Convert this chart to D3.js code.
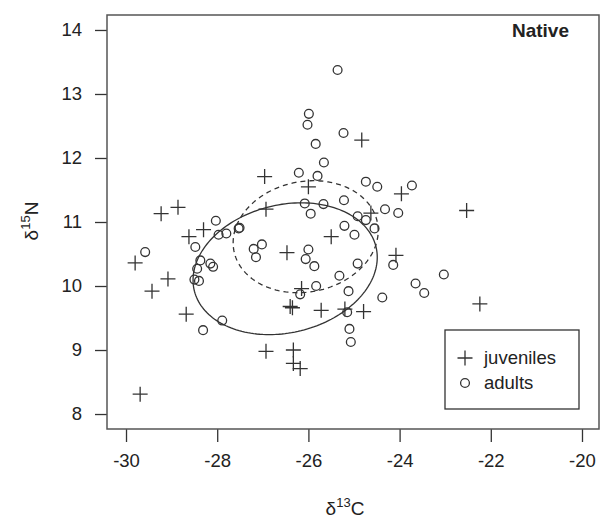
<!DOCTYPE html>
<html>
<head>
<meta charset="utf-8">
<script src="https://cdn.jsdelivr.net/npm/d3@7"></script>
<style>
  body { margin: 0; background: #fff; }
  text { font-family: "Liberation Sans", Arial, sans-serif; fill: #222; }
</style>
</head>
<body>
<div id="chart"></div>
<script>
// chart size and plot frame
const width = 600;
const height = 520;
const frame = { left: 107, right: 599, top: 15, bottom: 429 };

// data (d13C, d15N)
const juvX = [-29.80, -29.43, -29.23, -28.86, -29.08, -28.62, -28.30, -28.68, -29.69, -26.96,
              -26.93, -26.93, -26.47, -26.40, -26.35, -26.33, -26.33, -26.18, -26.15, -26.00,
              -25.72, -25.50, -25.20, -24.79, -24.83, -24.63, -23.96, -24.08, -22.53, -22.24];
const juvY = [10.36, 9.92, 11.13, 11.23, 10.11, 10.77, 10.88, 9.56, 8.31, 11.71,
              11.20, 8.98, 10.52, 9.68, 9.66, 9.00, 8.79, 8.71, 9.96, 11.55,
              9.62, 10.77, 9.64, 9.60, 12.28, 11.14, 11.44, 10.48, 11.18, 9.72];

const adX = [-29.58, -28.03, -27.97, -27.80, -27.53, -27.51, -28.48, -28.37, -28.15, -28.09,
             -28.44, -28.50, -28.40, -27.20, -27.02, -27.15, -27.89, -28.31, -25.36, -25.99,
             -26.02, -25.23, -25.84, -25.66, -26.21, -25.80, -24.74, -24.49, -23.73, -25.22,
             -26.08, -25.67, -25.95, -24.32, -24.03, -24.92, -24.74, -24.55, -25.21, -24.99,
             -26.00, -26.06, -25.87, -24.92, -24.14, -25.32, -25.83, -25.12, -26.18, -23.65,
             -23.46, -24.38, -23.03, -25.15, -25.10, -25.07];
const adY = [10.53, 11.02, 10.80, 10.82, 10.90, 10.91, 10.61, 10.40, 10.35, 10.30,
             10.27, 10.10, 10.08, 10.58, 10.65, 10.45, 9.46, 9.31, 13.375, 12.69,
             12.52, 12.39, 12.22, 11.93, 11.77, 11.72, 11.63, 11.55, 11.57, 11.34,
             11.29, 11.28, 11.13, 11.20, 11.14, 11.09, 11.03, 10.90, 10.94, 10.80,
             10.57, 10.42, 10.31, 10.35, 10.33, 10.16, 10.00, 9.92, 9.87, 10.04,
             9.89, 9.82, 10.18, 9.59, 9.33, 9.125];

// ellipses: centre, variances and covariance (data units)
const ellJuv = { cx: -26.51, cy: 10.27, vx: 4.08, vy: 1.06, cxy: 0.36 };
const ellAd  = { cx: -26.06, cy: 10.77, vx: 2.53, vy: 0.766, cxy: 0.15 };

const xTicks = [-30, -28, -26, -24, -22, -20];
const yTicks = [8, 9, 10, 11, 12, 13, 14];
const legendLabels = ["juveniles", "adults"];

const ink = "#333";

const svg = d3.select("#chart").append("svg")
    .attr("width", width).attr("height", height);

const xScale = d3.scaleLinear().domain([-30.417, -19.627]).range([frame.left, frame.right]);
const yScale = d3.scaleLinear().domain([7.766, 14.234]).range([frame.bottom, frame.top]);

// axes, R style: ticks outside, no domain line, plain hyphen minus
const xAxis = d3.axisBottom(xScale).tickValues(xTicks).tickFormat(d => String(d)).tickSize(13).tickPadding(12);
const yAxis = d3.axisLeft(yScale).tickValues(yTicks).tickFormat(d => String(d)).tickSize(12).tickPadding(13);

const gx = svg.append("g").attr("transform", `translate(0,${frame.bottom})`).call(xAxis);
const gy = svg.append("g").attr("transform", `translate(${frame.left},0)`).call(yAxis);
[gx, gy].forEach(g => {
    g.select(".domain").remove();
    g.selectAll("line").attr("stroke", ink).attr("stroke-width", 1.3);
    g.selectAll("text").attr("font-size", 18.5).attr("fill", "#222")
        .style("font-family", '"Liberation Sans", Arial, sans-serif');
});

// plot box
svg.append("rect")
    .attr("x", frame.left).attr("y", frame.top)
    .attr("width", frame.right - frame.left).attr("height", frame.bottom - frame.top)
    .attr("fill", "none").attr("stroke", "#555").attr("stroke-width", 1.5);

// ellipse path from centre + covariance (cholesky)
function ellipsePath(e) {
    const l11 = Math.sqrt(e.vx);
    const l21 = e.cxy / l11;
    const l22 = Math.sqrt(e.vy - l21 * l21);
    const pts = d3.range(0, 361, 2).map(a => {
        const t = a * Math.PI / 180;
        return [xScale(e.cx + l11 * Math.cos(t)), yScale(e.cy + l21 * Math.cos(t) + l22 * Math.sin(t))];
    });
    return d3.line()(pts);
}

svg.append("path").attr("d", ellipsePath(ellJuv))
    .attr("fill", "none").attr("stroke", ink).attr("stroke-width", 1.3);
svg.append("path").attr("d", ellipsePath(ellAd))
    .attr("fill", "none").attr("stroke", ink).attr("stroke-width", 1.3)
    .attr("stroke-dasharray", "5,4");

// points
function plusPath(s) { return `M${-s},0H${s}M0,${-s}V${s}`; }

svg.append("g").selectAll("path").data(d3.zip(juvX, juvY)).enter()
    .append("path")
    .attr("d", plusPath(7.5))
    .attr("transform", d => `translate(${xScale(d[0])},${yScale(d[1])})`)
    .attr("fill", "none").attr("stroke", ink).attr("stroke-width", 1.3);

svg.append("g").selectAll("circle").data(d3.zip(adX, adY)).enter()
    .append("circle")
    .attr("cx", d => xScale(d[0])).attr("cy", d => yScale(d[1]))
    .attr("r", 4.4)
    .attr("fill", "none").attr("stroke", ink).attr("stroke-width", 1.3);

// panel title
svg.append("text").attr("x", 569).attr("y", 37)
    .attr("text-anchor", "end").attr("font-size", 19).attr("font-weight", "bold")
    .text("Native");

// legend
const lg = svg.append("g");
lg.append("rect").attr("x", 445).attr("y", 330).attr("width", 134).attr("height", 79)
    .attr("fill", "#fff").attr("stroke", ink).attr("stroke-width", 1.3);
lg.append("path").attr("d", plusPath(7.5)).attr("transform", "translate(465,358)")
    .attr("fill", "none").attr("stroke", ink).attr("stroke-width", 1.3);
lg.append("circle").attr("cx", 465).attr("cy", 383).attr("r", 4.4)
    .attr("fill", "none").attr("stroke", ink).attr("stroke-width", 1.3);
lg.selectAll("text.lab").data(legendLabels).enter().append("text")
    .attr("class", "lab")
    .attr("x", 484).attr("y", (d, i) => 364 + i * 25)
    .attr("font-size", 18.5)
    .text(d => d);

// axis titles with superscripts
const xt = svg.append("text").attr("x", 345).attr("y", 515)
    .attr("text-anchor", "middle").attr("font-size", 19);
xt.append("tspan").text("\u03b4");
xt.append("tspan").attr("font-size", 13).attr("dy", -8).text("13");
xt.append("tspan").attr("dy", 8).text("C");

const yt = svg.append("text")
    .attr("transform", "translate(38,221) rotate(-90)")
    .attr("text-anchor", "middle").attr("font-size", 19);
yt.append("tspan").text("\u03b4");
yt.append("tspan").attr("font-size", 13).attr("dy", -8).text("15");
yt.append("tspan").attr("dy", 8).text("N");
</script>
</body>
</html>
